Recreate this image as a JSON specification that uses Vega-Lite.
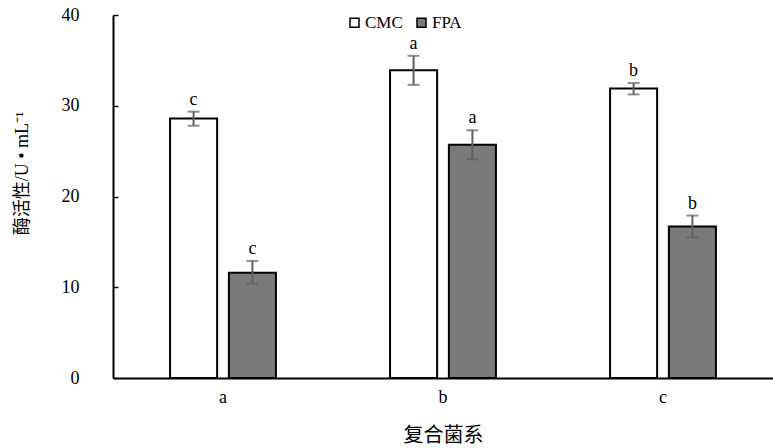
{
  "$schema": "https://vega.github.io/schema/vega-lite/v6.json",
  "width": 660,
  "height": 363,
  "autosize": "none",
  "padding": {"left": 113, "top": 15, "right": 0, "bottom": 70},
  "background": "white",
  "config": {"view": {"stroke": null}, "font": "Liberation Serif"},
  "data": {"values": [
    {"group": "a", "enzyme": "CMC", "mean": 28.6, "lo": 27.8, "hi": 29.35, "sig": "c"},
    {"group": "a", "enzyme": "FPA", "mean": 11.6, "lo": 10.4, "hi": 12.9, "sig": "c"},
    {"group": "b", "enzyme": "CMC", "mean": 33.9, "lo": 32.3, "hi": 35.5, "sig": "a"},
    {"group": "b", "enzyme": "FPA", "mean": 25.7, "lo": 24.1, "hi": 27.3, "sig": "a"},
    {"group": "c", "enzyme": "CMC", "mean": 31.9, "lo": 31.25, "hi": 32.5, "sig": "b"},
    {"group": "c", "enzyme": "FPA", "mean": 16.7, "lo": 15.5, "hi": 17.9, "sig": "b"}
  ]},
  "encoding": {
    "x": {"field": "group", "type": "nominal", "scale": {"paddingInner": 0, "paddingOuter": 0},
      "axis": {"labelAngle": 0, "ticks": false, "domainColor": "black", "domainWidth": 2, "labelColor": "black", "labelFontSize": 18, "labelPadding": 10, "title": "复合菌系", "titleFont": "Liberation Serif, Noto Sans CJK SC", "titleFontSize": 20, "titleFontWeight": "normal", "titleColor": "black", "titlePadding": 19}},
    "xOffset": {"field": "enzyme", "type": "nominal", "scale": {"paddingInner": 0.2, "paddingOuter": 0.97}}
  },
  "layer": [
    {
      "mark": {"type": "bar", "stroke": "black", "strokeWidth": 2},
      "encoding": {
        "y": {"field": "mean", "type": "quantitative", "scale": {"domain": [0, 40], "nice": false},
          "axis": {"values": [0, 10, 20, 30, 40], "grid": false, "domainColor": "black", "domainWidth": 2, "tickColor": "black", "tickWidth": 1.5, "tickSize": -5, "labelColor": "black", "labelFontSize": 18, "labelPadding": 39, "title": "酶活性/U • mL⁻¹", "titleFont": "Liberation Serif, Noto Sans CJK SC", "titleFontSize": 18, "titleFontWeight": "normal", "titleColor": "black", "titleX": -91, "titleY": 158, "titleAngle": -90, "titleAlign": "center", "titleBaseline": "middle"}},
        "fill": {"field": "enzyme", "type": "nominal", "scale": {"domain": ["CMC", "FPA"], "range": ["#ffffff", "#7a7a7a"]},
          "legend": {"orient": "none", "legendX": 233, "legendY": -1, "direction": "horizontal", "title": null, "symbolType": "square", "symbolSize": 81, "symbolStrokeColor": "black", "symbolStrokeWidth": 1.5, "labelFontSize": 17, "labelColor": "black", "labelOffset": 2, "columnPadding": 10}}
      }
    },
    {
      "mark": {"type": "rule", "color": "#606060", "strokeWidth": 2},
      "encoding": {"y": {"field": "lo", "type": "quantitative"}, "y2": {"field": "hi"}}
    },
    {
      "mark": {"type": "tick", "color": "#606060", "thickness": 2, "size": 12},
      "encoding": {"y": {"field": "lo", "type": "quantitative"}}
    },
    {
      "mark": {"type": "tick", "color": "#606060", "thickness": 2, "size": 12},
      "encoding": {"y": {"field": "hi", "type": "quantitative"}}
    },
    {
      "mark": {"type": "text", "baseline": "bottom", "dy": -3, "fontSize": 18, "color": "black"},
      "encoding": {"y": {"field": "hi", "type": "quantitative"}, "text": {"field": "sig"}}
    }
  ]
}
